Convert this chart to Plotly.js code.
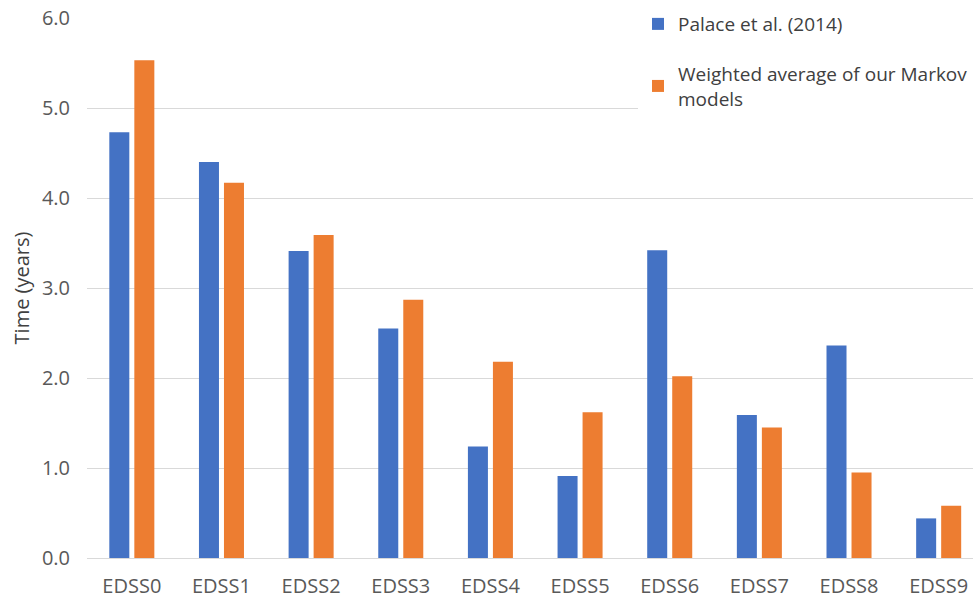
<!DOCTYPE html>
<html>
<head>
<meta charset="utf-8">
<script src="https://cdn.plot.ly/plotly-3.0.1.min.js"></script>
<style>
  html, body { margin: 0; padding: 0; background: #ffffff; }
  #chart { width: 973px; height: 601px; }
</style>
</head>
<body>
<div id="chart"></div>
<script>
// EDSS states on the category axis
const categories = ["EDSS0", "EDSS1", "EDSS2", "EDSS3", "EDSS4", "EDSS5", "EDSS6", "EDSS7", "EDSS8", "EDSS9"];

// Time spent in each state (years)
const palaceValues = [4.73, 4.40, 3.41, 2.55, 1.24, 0.91, 3.42, 1.59, 2.36, 0.44];
const markovValues = [5.53, 4.17, 3.59, 2.87, 2.18, 1.62, 2.02, 1.45, 0.95, 0.58];

const seriesNames = ["Palace et al. (2014)", "Weighted average of our Markov<br>models"];
const yTickValues = [0, 1, 2, 3, 4, 5, 6];

const tickColor = "#595959";
const gridColor = "#d9d9d9";

const traces = [
  {
    type: "bar",
    name: seriesNames[0],
    x: categories,
    y: palaceValues,
    marker: { color: "#4472C4" },
    legendgroup: "a",
    hoverinfo: "x+y"
  },
  {
    type: "bar",
    name: seriesNames[1],
    x: categories,
    y: markovValues,
    marker: { color: "#ED7D31" },
    legendgroup: "b",
    hoverinfo: "x+y"
  }
];

const layout = {
  width: 973,
  height: 601,
  margin: { l: 87, r: 0, t: 18, b: 43 },
  paper_bgcolor: "#ffffff",
  plot_bgcolor: "#ffffff",
  font: { family: "Open Sans, sans-serif", size: 20, color: tickColor },
  barmode: "group",
  bargap: 0.442,
  bargroupgap: 0.2,
  xaxis: {
    type: "category",
    range: [-0.5, 9.383],
    showgrid: false,
    showline: true,
    linecolor: gridColor,
    linewidth: 1,
    ticks: "",
    ticklabelstandoff: 10,
    tickfont: { size: 20, color: tickColor },
    fixedrange: true
  },
  yaxis: {
    range: [0, 6],
    tickvals: yTickValues,
    tickformat: ".1f",
    showgrid: true,
    gridcolor: gridColor,
    gridwidth: 1,
    zeroline: false,
    showline: false,
    ticks: "",
    ticklabelstandoff: 16,
    tickfont: { size: 20, color: tickColor },
    title: { text: "Time (years)", font: { size: 20, color: "#404040" }, standoff: 6 },
    automargin: false,
    fixedrange: true
  },
  showlegend: true,
  legend: {
    x: 0.622,
    xanchor: "left",
    y: 1.024,
    yanchor: "top",
    bgcolor: "#ffffff",
    borderwidth: 0,
    traceorder: "grouped",
    tracegroupgap: 22,
    font: { size: 19, color: "#404040" },
    itemclick: false,
    itemdoubleclick: false
  }
};

Plotly.newPlot("chart", traces, layout, { displayModeBar: false, staticPlot: true });
</script>
</body>
</html>
